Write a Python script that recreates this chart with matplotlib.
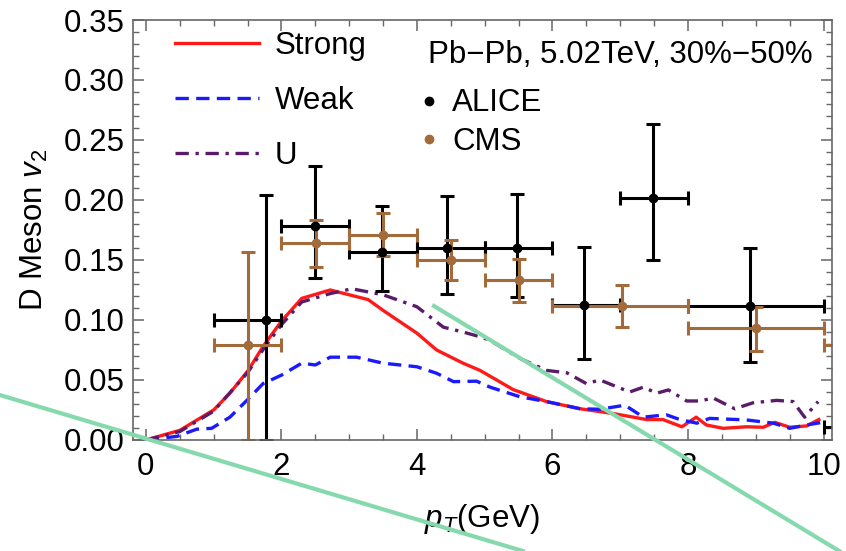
import matplotlib
matplotlib.use("Agg")
import matplotlib.pyplot as plt
from matplotlib.lines import Line2D
import numpy as np

plt.rcParams['font.family'] = ['Liberation Sans', 'DejaVu Sans']
plt.rcParams['mathtext.fontset'] = 'custom'
plt.rcParams['mathtext.rm'] = 'Liberation Sans'
plt.rcParams['mathtext.it'] = 'Liberation Sans:italic'

# model curves: D meson v2 vs pT
strong_pt = [0.0, 0.5, 1.0, 1.24, 1.51, 1.73, 2.0, 2.3, 2.72, 3.28, 3.5, 4.0, 4.29, 4.68,
             4.93, 5.42, 5.91, 6.41, 6.9, 7.39, 7.63, 7.91, 8.12, 8.27, 8.52, 8.86, 9.11,
             9.28, 9.5, 9.75, 9.93]
strong_v2 = [0.0, 0.008, 0.025, 0.039, 0.058, 0.078, 0.099, 0.118, 0.125, 0.117, 0.108,
             0.089, 0.075, 0.064, 0.058, 0.042, 0.032, 0.026, 0.022, 0.017, 0.017, 0.011,
             0.019, 0.0125, 0.0097, 0.011, 0.0106, 0.0147, 0.0106, 0.0117, 0.017]

weak_pt = [0.0, 0.46, 0.75, 0.97, 1.24, 1.49, 1.73, 2.0, 2.3, 2.5, 2.72, 3.11, 3.5, 4.0,
           4.29, 4.54, 4.88, 5.08, 5.52, 5.91, 6.41, 6.7, 7.07, 7.34, 7.68, 7.88, 8.13,
           8.32, 8.86, 9.26, 9.5, 9.75, 9.95]
weak_v2 = [0.0, 0.003, 0.009, 0.0097, 0.019, 0.033, 0.047, 0.054, 0.064, 0.0625, 0.069,
           0.069, 0.064, 0.061, 0.0556, 0.0486, 0.049, 0.044, 0.036, 0.032, 0.026, 0.0256,
           0.029, 0.019, 0.021, 0.017, 0.014, 0.018, 0.0167, 0.014, 0.0097, 0.0125, 0.0144]

u_pt = [0.0, 0.5, 1.0, 1.5, 1.75, 2.0, 2.3, 2.72, 3.04, 3.5, 4.0, 4.39, 4.68, 4.93, 5.08,
        5.52, 5.91, 6.21, 6.5, 6.7, 7.14, 7.34, 7.54, 7.71, 7.98, 8.18, 8.37, 8.69, 8.96,
        9.31, 9.55, 9.72, 9.92]
u_v2 = [0.0, 0.007, 0.024, 0.056, 0.077, 0.096, 0.115, 0.122, 0.126, 0.121, 0.111, 0.094,
        0.090, 0.086, 0.083, 0.068, 0.058, 0.056, 0.047, 0.050, 0.040, 0.044, 0.039, 0.0417,
        0.0325, 0.0325, 0.035, 0.026, 0.031, 0.033, 0.032, 0.019, 0.032]

# ALICE data: bin edges, mean pT, v2 and errors
alice_lo = [1, 2, 3, 4, 5, 6, 7, 8, 10]
alice_hi = [2, 3, 4, 5, 6, 7, 8, 10, 12]
alice_pt = [1.77, 2.5, 3.49, 4.44, 5.48, 6.47, 7.48, 8.91, 11.0]
alice_v2 = [0.100, 0.178, 0.157, 0.160, 0.160, 0.1125, 0.202, 0.112, 0.011]
alice_up = [0.104, 0.050, 0.038, 0.043, 0.045, 0.048, 0.061, 0.048, 0.010]
alice_dn = [0.100, 0.043, 0.033, 0.038, 0.041, 0.045, 0.052, 0.047, 0.010]

# CMS data
cms_lo = [1, 2, 3, 4, 5, 6, 8, 10]
cms_hi = [2, 3, 4, 5, 6, 8, 10, 12.5]
cms_pt = [1.5, 2.51, 3.5, 4.5, 5.51, 7.02, 9.01, 11.0]
cms_v2 = [0.079, 0.164, 0.171, 0.150, 0.133, 0.112, 0.093, 0.079]
cms_up = [0.078, 0.019, 0.018, 0.017, 0.018, 0.017, 0.018, 0.015]
cms_dn = [0.079, 0.020, 0.018, 0.017, 0.018, 0.018, 0.019, 0.015]

brown = '#a36b3b'
purple = '#5a1c6a'
fs = 22.5

fig = plt.figure(figsize=(8.46, 5.51), dpi=100)
ax = fig.add_axes([0.1572, 0.2015, 0.8259, 0.7622])

ax.plot(strong_pt, strong_v2, color='#ff1a1a', lw=2.4, label='Strong')
ax.plot(weak_pt, weak_v2, color='#1a1aff', lw=2.4, ls=(0, (4, 2.2)), label='Weak')
ax.plot(u_pt, u_v2, color=purple, lw=2.4, ls=(0, (4, 2, 1, 2)), label='U')

def draw_points(lo, hi, pt, v2, up, dn, color):
    pt = np.array(pt)
    xerr = [pt - np.array(lo), np.array(hi) - pt]
    ax.errorbar(pt, v2, xerr=xerr, yerr=[dn, up], fmt='o', ms=6, color=color,
                elinewidth=2.2, capsize=5, capthick=2.2, clip_on=True)

draw_points(alice_lo, alice_hi, alice_pt, alice_v2, alice_up, alice_dn, 'black')
draw_points(cms_lo, cms_hi, cms_pt, cms_v2, cms_up, cms_dn, brown)

ax.set_xlim(-0.19, 10.12)
ax.set_ylim(0, 0.35)
ax.set_xticks(np.arange(0, 11, 2))
ax.set_xticks(np.arange(0, 10.01, 0.5), minor=True)
ax.set_yticks(np.arange(0, 0.351, 0.05))
ax.set_yticks(np.arange(0, 0.351, 0.01), minor=True)
ax.yaxis.set_major_formatter(matplotlib.ticker.FormatStrFormatter('%.2f'))

for s in ax.spines.values():
    s.set_color('#666666')
    s.set_linewidth(1.2)
ax.tick_params(which='both', direction='in', top=True, right=True, color='#666666',
               labelsize=fs)
ax.tick_params(which='major', length=8, width=1.1)
ax.tick_params(which='minor', length=4.5, width=1.0)
ax.tick_params(axis='x', pad=9)
ax.tick_params(axis='y', pad=6)

ax.set_xlabel(r'$p_T$(GeV)', fontsize=fs, labelpad=14)
ax.set_ylabel(r'D Meson $v_2$', fontsize=fs, labelpad=10)

leg1 = ax.legend(loc='upper left', bbox_to_anchor=(0.06, 0.975), frameon=False,
                 fontsize=fs, handlelength=2.7, handletextpad=0.5, labelspacing=0.8,
                 borderpad=0, borderaxespad=0)
ax.add_artist(leg1)

ax.text(0.422, 0.917, 'Pb\u2212Pb, 5.02TeV, 30%\u221250%', transform=ax.transAxes,
        fontsize=fs, va='center', ha='left')
pts = [Line2D([], [], marker='o', ls='none', color='black', ms=6),
       Line2D([], [], marker='o', ls='none', color=brown, ms=6)]
ax.legend(pts, ['ALICE', 'CMS'], loc='upper left', bbox_to_anchor=(0.41, 0.837),
          frameon=False, fontsize=fs, handlelength=0.6, handletextpad=0.45,
          labelspacing=0.26, borderpad=0, borderaxespad=0)

# two light green strokes across the figure
green = '#86d9ad'
fig.add_artist(Line2D([0.0, 0.618], [0.283, 0.0], transform=fig.transFigure,
                      color=green, lw=3))
fig.add_artist(Line2D([0.513, 0.992], [0.4446, 0.0], transform=fig.transFigure,
                      color=green, lw=3))

fig.savefig('out.png', dpi=100)
